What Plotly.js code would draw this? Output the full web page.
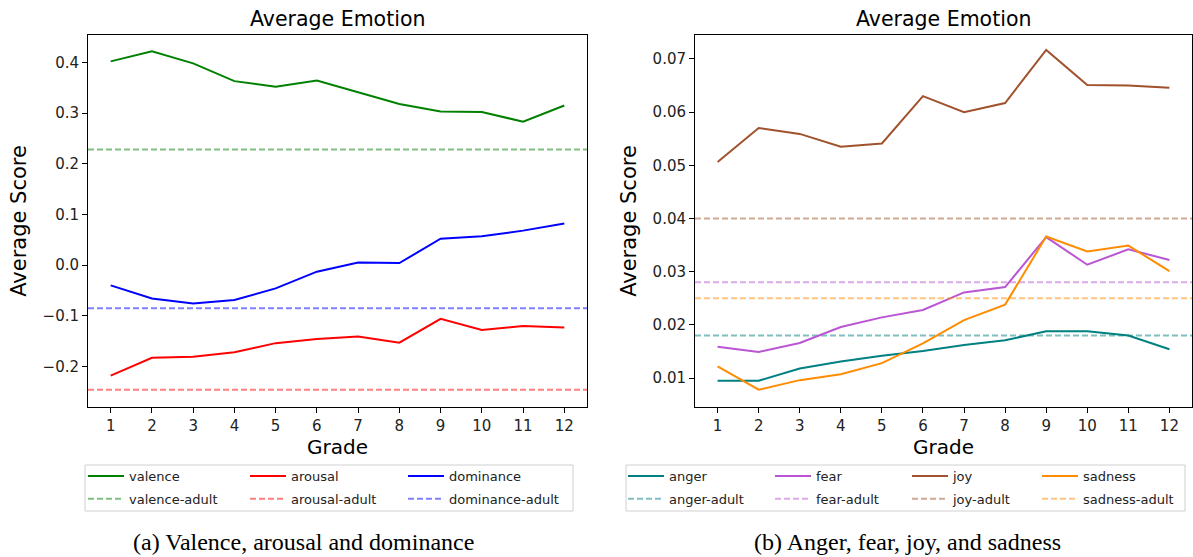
<!DOCTYPE html>
<html>
<head>
<meta charset="utf-8">
<script src="https://cdn.plot.ly/plotly-3.0.1.min.js"></script>
<style>
html,body{margin:0;padding:0;background:#fff;}
#chart{width:1193px;height:557px;}
</style>
</head>
<body>
<div id="chart"></div>
<script>
// ---- data ----
const grades = [1,2,3,4,5,6,7,8,9,10,11,12];

const valence   = [0.402,0.422,0.398,0.363,0.352,0.364,0.341,0.318,0.303,0.302,0.283,0.315];
const arousal   = [-0.218,-0.183,-0.181,-0.172,-0.154,-0.146,-0.141,-0.153,-0.106,-0.128,-0.120,-0.123];
const dominance = [-0.040,-0.066,-0.076,-0.069,-0.046,-0.013,0.005,0.004,0.052,0.057,0.068,0.082];
const valenceAdult = 0.228;
const arousalAdult = -0.246;
const dominanceAdult = -0.085;

const anger   = [0.0095,0.0095,0.0118,0.0131,0.0142,0.0151,0.0162,0.0171,0.0188,0.0188,0.0180,0.0154];
const fear    = [0.0159,0.0149,0.0166,0.0196,0.0214,0.0228,0.0261,0.0271,0.0365,0.0313,0.0342,0.0322];
const joy     = [0.0506,0.0570,0.0559,0.0535,0.0541,0.0630,0.0600,0.0617,0.0717,0.0651,0.0650,0.0646];
const sadness = [0.0122,0.0078,0.0096,0.0107,0.0128,0.0165,0.0209,0.0238,0.0366,0.0338,0.0349,0.0301];
const angerAdult = 0.018;
const fearAdult = 0.028;
const joyAdult = 0.040;
const sadnessAdult = 0.025;

const leftTickVals = [-0.2,-0.1,0.0,0.1,0.2,0.3,0.4];
const rightTickVals = [0.01,0.02,0.03,0.04,0.05,0.06,0.07];

// ---- styling ----
const W = 1193, H = 557;
const px = v => v / W;
const py = v => 1 - v / H;
const xRange = [0.45, 12.55];
const FONT = 'DejaVu Sans, sans-serif';
const SERIF = 'Liberation Serif, Times New Roman, serif';

function solid(name, y, color, xa, ya, leg) {
  return {x: grades, y: y, name: name, type: 'scatter', mode: 'lines', legendgroup: name,
    line: {color: color, width: 2}, xaxis: xa, yaxis: ya, legend: leg, hoverinfo: 'skip'};
}
function adult(name, val, color, xa, ya, leg) {
  return {x: xRange, y: [val, val], name: name, type: 'scatter', mode: 'lines', legendgroup: name,
    line: {color: color, width: 2, dash: '6px,3px'}, xaxis: xa, yaxis: ya, legend: leg, hoverinfo: 'skip'};
}

const traces = [
  solid('valence', valence, '#008000', 'x', 'y', 'legend'),
  adult('valence-adult', valenceAdult, 'rgba(0,128,0,0.5)', 'x', 'y', 'legend'),
  solid('arousal', arousal, '#ff0000', 'x', 'y', 'legend2'),
  adult('arousal-adult', arousalAdult, 'rgba(255,0,0,0.5)', 'x', 'y', 'legend2'),
  solid('dominance', dominance, '#0000ff', 'x', 'y', 'legend3'),
  adult('dominance-adult', dominanceAdult, 'rgba(0,0,255,0.5)', 'x', 'y', 'legend3'),

  solid('anger', anger, '#008080', 'x2', 'y2', 'legend4'),
  adult('anger-adult', angerAdult, 'rgba(0,128,128,0.5)', 'x2', 'y2', 'legend4'),
  solid('fear', fear, '#ba55d3', 'x2', 'y2', 'legend5'),
  adult('fear-adult', fearAdult, 'rgba(186,85,211,0.5)', 'x2', 'y2', 'legend5'),
  solid('joy', joy, '#a0522d', 'x2', 'y2', 'legend6'),
  adult('joy-adult', joyAdult, 'rgba(160,82,45,0.5)', 'x2', 'y2', 'legend6'),
  solid('sadness', sadness, '#ff8c00', 'x2', 'y2', 'legend7'),
  adult('sadness-adult', sadnessAdult, 'rgba(255,140,0,0.5)', 'x2', 'y2', 'legend7'),
];

const yDom = [py(407), py(35)];
function xaxis(domain, anchor) {
  return {domain: domain, anchor: anchor, range: xRange, tickvals: grades,
    showgrid: false, zeroline: false, showline: true, mirror: true, linecolor: '#000', linewidth: 1,
    ticks: 'outside', ticklen: 5, tickcolor: '#000', tickfont: {family: FONT, size: 15, color: '#222'},
    title: {text: 'Grade', font: {family: FONT, size: 20, color: '#000'}, standoff: 5}};
}
function yaxis(domain, anchor, range, tv, fmt) {
  return {domain: domain, anchor: anchor, range: range, tickvals: tv, tickformat: fmt,
    showgrid: false, zeroline: false, showline: true, mirror: true, linecolor: '#000', linewidth: 1,
    ticks: 'outside', ticklen: 5, tickcolor: '#000', tickfont: {family: FONT, size: 15, color: '#222'},
    title: {text: 'Average Score', font: {family: FONT, size: 21, color: '#000'}, standoff: 10}};
}

function legendAt(xLine) {
  return {x: px(xLine - 6), y: py(461), xanchor: 'left', yanchor: 'top',
    bgcolor: 'rgba(0,0,0,0)', borderwidth: 0, orientation: 'v', itemwidth: 36,
    font: {family: FONT, size: 13, color: '#222'}, tracegroupgap: 3};
}

const layout = {
  width: W, height: H,
  margin: {l: 0, r: 0, t: 0, b: 0},
  paper_bgcolor: '#fff', plot_bgcolor: '#fff',
  font: {family: FONT},
  xaxis: xaxis([px(88), px(587)], 'y'),
  yaxis: yaxis(yDom, 'x', [-0.280, 0.454], leftTickVals, '.1f'),
  xaxis2: xaxis([px(695), px(1192)], 'y2'),
  yaxis2: yaxis(yDom, 'x2', [0.00455, 0.0745], rightTickVals, '.2f'),
  legend: legendAt(89),
  legend2: legendAt(251),
  legend3: legendAt(409),
  legend4: legendAt(629),
  legend5: legendAt(776),
  legend6: legendAt(913),
  legend7: legendAt(1043),
  shapes: [
    {type: 'rect', xref: 'paper', yref: 'paper', x0: px(85), x1: px(573), y0: py(511), y1: py(465),
      line: {color: '#d0d0d0', width: 1}, fillcolor: 'rgba(0,0,0,0)'},
    {type: 'rect', xref: 'paper', yref: 'paper', x0: px(626), x1: px(1185), y0: py(511), y1: py(465),
      line: {color: '#d0d0d0', width: 1}, fillcolor: 'rgba(0,0,0,0)'}
  ],
  annotations: [
    {text: 'Average Emotion', xref: 'paper', yref: 'paper', x: px(337.5), y: py(19), showarrow: false,
      xanchor: 'center', yanchor: 'middle', font: {family: FONT, size: 20.5, color: '#000'}},
    {text: 'Average Emotion', xref: 'paper', yref: 'paper', x: px(943.5), y: py(19), showarrow: false,
      xanchor: 'center', yanchor: 'middle', font: {family: FONT, size: 20.5, color: '#000'}},
    {text: '(a) Valence, arousal and dominance', xref: 'paper', yref: 'paper', x: px(303), y: 0, showarrow: false,
      xanchor: 'center', yanchor: 'bottom', font: {family: SERIF, size: 24, color: '#000'}},
    {text: '(b) Anger, fear, joy, and sadness', xref: 'paper', yref: 'paper', x: px(907), y: 0, showarrow: false,
      xanchor: 'center', yanchor: 'bottom', font: {family: SERIF, size: 24, color: '#000'}}
  ]
};

Plotly.newPlot('chart', traces, layout, {displayModeBar: false, staticPlot: true});
</script>
</body>
</html>
